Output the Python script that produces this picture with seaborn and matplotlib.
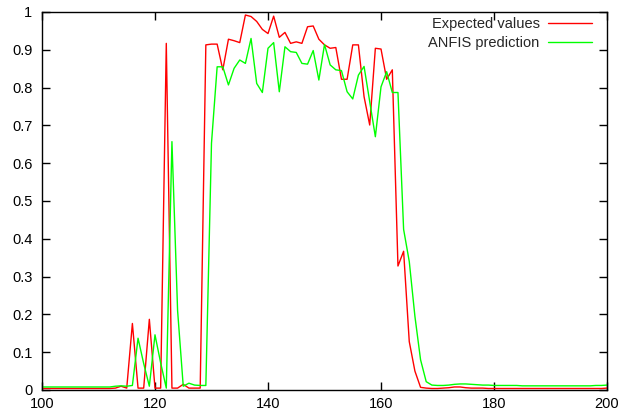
import numpy as np
import pandas as pd
import matplotlib
matplotlib.use("Agg")
import matplotlib.pyplot as plt
import seaborn as sns

x_vals = list(range(100, 201))

expected = (
    [0.004] * 13
    + [0.005, 0.010, 0.005, 0.176, 0.005, 0.005, 0.187, 0.005, 0.005, 0.917,
       0.005, 0.005, 0.015, 0.005, 0.005, 0.005, 0.913, 0.915, 0.915, 0.847,
       0.928, 0.924, 0.919, 0.992, 0.988, 0.975, 0.954, 0.943, 0.989, 0.933,
       0.946, 0.917, 0.921, 0.917, 0.961, 0.963, 0.928, 0.913, 0.904, 0.906,
       0.822, 0.822, 0.913, 0.913, 0.776, 0.701, 0.904, 0.902, 0.822, 0.847,
       0.328, 0.367, 0.128, 0.050, 0.007, 0.005, 0.004, 0.004, 0.005, 0.006,
       0.008, 0.008, 0.006, 0.005, 0.005, 0.005, 0.004, 0.004, 0.004, 0.004,
       0.004, 0.004, 0.004, 0.004, 0.004, 0.004, 0.004, 0.004, 0.004, 0.004,
       0.004, 0.004, 0.004, 0.004, 0.004, 0.004, 0.004, 0.005]
)

anfis = (
    [0.008] * 13
    + [0.010, 0.011, 0.010, 0.012, 0.137, 0.070, 0.010, 0.146, 0.072, 0.005,
       0.657, 0.210, 0.010, 0.018, 0.013, 0.012, 0.012, 0.653, 0.855, 0.855,
       0.807, 0.851, 0.873, 0.864, 0.930, 0.811, 0.787, 0.904, 0.919, 0.789,
       0.908, 0.895, 0.893, 0.864, 0.862, 0.898, 0.820, 0.914, 0.860, 0.847,
       0.845, 0.789, 0.770, 0.833, 0.856, 0.763, 0.670, 0.802, 0.842, 0.787,
       0.787, 0.425, 0.340, 0.195, 0.080, 0.022, 0.013, 0.012, 0.012, 0.013,
       0.015, 0.016, 0.016, 0.015, 0.014, 0.013, 0.013, 0.012, 0.012, 0.012,
       0.012, 0.012, 0.011, 0.011, 0.011, 0.011, 0.011, 0.011, 0.011, 0.011,
       0.011, 0.011, 0.011, 0.011, 0.011, 0.012, 0.012, 0.013]
)

labels = ["Expected values", "ANFIS prediction"]
colors = ["#ff0000", "#00ff00"]

df = pd.DataFrame({
    "x": x_vals * 2,
    "y": expected + anfis,
    "series": [labels[0]] * len(x_vals) + [labels[1]] * len(x_vals),
})

sns.set_style("ticks")
plt.rcParams["font.family"] = ["Liberation Sans", "DejaVu Sans"]
plt.rcParams["font.size"] = 10.5

fig = plt.figure(figsize=(6.21, 4.12), dpi=100)
ax = fig.add_axes([0.0676, 0.0534, 0.9099, 0.9175])

sns.lineplot(data=df, x="x", y="y", hue="series", palette=colors,
             hue_order=labels, linewidth=1.0, ax=ax)

ax.set_xlim(100, 200)
ax.set_ylim(0, 1)
ax.set_xticks(range(100, 201, 20))
ax.set_yticks(np.round(np.arange(0, 1.01, 0.1), 1))
ax.set_yticklabels(["0", "0.1", "0.2", "0.3", "0.4", "0.5", "0.6", "0.7",
                    "0.8", "0.9", "1"])
ax.set_xlabel("")
ax.set_ylabel("")
for s in ax.spines.values():
    s.set_visible(True)
    s.set_linewidth(1.0)
    s.set_color("black")
ax.tick_params(direction="in", length=6, width=1, top=True, right=True,
               labelsize=10.5, colors="black")
ax.tick_params(axis="y", pad=7)
ax.tick_params(axis="x", pad=5)

ax.legend(loc="upper right", frameon=False, markerfirst=False,
          handlelength=3.0, handletextpad=0.6, labelspacing=0.35,
          bbox_to_anchor=(0.997, 1.022), fontsize=10.5)

fig.savefig("out.png", dpi=100)
